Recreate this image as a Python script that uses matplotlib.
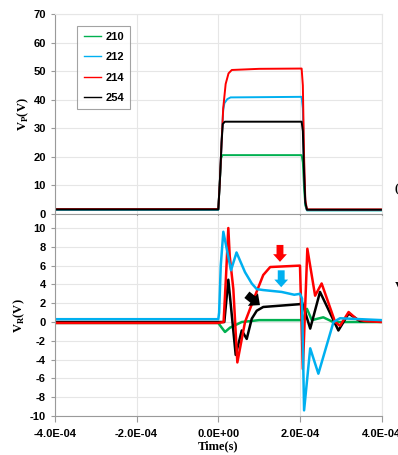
import matplotlib
matplotlib.use("Agg")
import matplotlib.pyplot as plt

# ---------------- data ----------------
labels = ["210", "212", "214", "254"]
colors = ["#00b050", "#00b0f0", "#ff0000", "#000000"]

# top panel: V_P(V)
tp_210 = [-4e-4, 0.0, 4e-6, 7e-6, 1.0e-5, 2.04e-4, 2.07e-4, 2.10e-4, 2.13e-4, 2.17e-4, 4e-4]
vp_210 = [1.5, 1.5, 12.0, 19.5, 20.6, 20.6, 18.0, 9.0, 3.0, 1.3, 1.3]
tp_212 = [-4e-4, 0.0, 4e-6, 8e-6, 1.2e-5, 1.5e-5, 2.2e-5, 3.0e-5, 2.04e-4, 2.07e-4, 2.10e-4, 2.13e-4, 2.17e-4, 4e-4]
vp_212 = [1.5, 1.5, 12.0, 25.0, 36.5, 38.8, 40.2, 40.8, 41.0, 37.0, 17.0, 4.0, 1.3, 1.3]
tp_214 = [-4e-4, 0.0, 4e-6, 8e-6, 1.2e-5, 1.8e-5, 2.5e-5, 3.3e-5, 1.0e-4, 2.04e-4, 2.07e-4, 2.10e-4, 2.13e-4, 2.17e-4, 4e-4]
vp_214 = [1.7, 1.7, 12.0, 25.0, 37.0, 45.5, 49.2, 50.4, 50.8, 50.9, 45.0, 20.0, 5.0, 1.6, 1.6]
tp_254 = [-4e-4, 0.0, 4e-6, 8e-6, 1.1e-5, 1.6e-5, 2.04e-4, 2.07e-4, 2.10e-4, 2.13e-4, 2.17e-4, 4e-4]
vp_254 = [1.6, 1.6, 12.0, 25.0, 31.5, 32.3, 32.3, 29.0, 14.0, 4.0, 1.5, 1.5]

# bottom panel: V_R(V)
tr_210 = [-4e-4, 0.0, 6.6e-6, 1.64e-5, 2.87e-5, 4.09e-5, 5.74e-5, 1.0e-4, 2.0e-4, 2.08e-4, 2.17e-4, 2.29e-4, 2.57e-4, 2.81e-4, 4e-4]
vr_210 = [-0.1, -0.1, -0.5, -1.06, -0.6, -0.35, 0.0, 0.2, 0.2, 0.3, 1.4, 0.2, 0.5, 0.0, 0.0]
tr_212 = [-4e-4, 0.0, 2e-6, 6e-6, 1.23e-5, 3.11e-5, 4.46e-5, 6.54e-5, 8.19e-5, 9.41e-5, 1.10e-4, 1.55e-4, 1.86e-4, 2.0e-4, 2.05e-4, 2.10e-4, 2.25e-4, 2.45e-4, 2.82e-4, 2.98e-4, 4e-4]
vr_212 = [0.3, 0.3, 1.0, 6.0, 9.6, 5.5, 7.4, 5.3, 4.1, 3.5, 3.4, 3.2, 2.9, 3.0, 2.5, -9.4, -2.8, -5.5, 0.0, 0.4, 0.2]
tr_214 = [-4e-4, 0.0, 1.3e-5, 1.9e-5, 2.45e-5, 2.8e-5, 3.68e-5, 4.66e-5, 6.54e-5, 9.0e-5, 1.10e-4, 1.27e-4, 2.0e-4, 2.07e-4, 2.18e-4, 2.37e-4, 2.53e-4, 2.86e-4, 2.98e-4, 3.19e-4, 3.39e-4, 3.6e-4, 4e-4]
vr_214 = [-0.1, -0.1, 0.0, 5.0, 10.0, 7.0, 3.5, -4.3, 0.0, 2.8, 5.0, 5.85, 6.0, -5.0, 7.8, 2.8, 4.1, 0.0, -0.4, 1.06, 0.3, 0.1, 0.0]
tr_254 = [-4e-4, 0.0, 1.47e-5, 2.45e-5, 4.26e-5, 5.74e-5, 6.96e-5, 8.19e-5, 9.41e-5, 1.10e-4, 2.0e-4, 2.05e-4, 2.13e-4, 2.25e-4, 2.49e-4, 2.94e-4, 3.19e-4, 3.47e-4, 4e-4]
vr_254 = [0.0, 0.0, 0.0, 4.5, -3.5, -0.9, -1.8, 0.35, 1.2, 1.6, 1.9, 2.1, 1.0, -0.7, 3.2, -0.9, 0.9, 0.1, 0.1]

xticks = [-4e-4, -2e-4, 0.0, 2e-4, 4e-4]
xticklabels = ["-4.0E-04", "-2.0E-04", "0.0E+00", "2.0E-04", "4.0E-04"]
top_yticks = [0, 10, 20, 30, 40, 50, 60, 70]
bot_yticks = [-10, -8, -6, -4, -2, 0, 2, 4, 6, 8, 10]

# arrows: (x_from, y_from, x_to, y_to, color, size)
arrows = [
    (1.51e-4, 8.2, 1.51e-4, 6.4, "#ff0000", 11),
    (1.54e-4, 5.5, 1.54e-4, 3.7, "#00b0f0", 11),
    (7.0e-5, 2.9, 1.02e-4, 1.8, "#000000", 13),
]

# ---------------- plotting ----------------
fig = plt.figure(figsize=(3.98, 4.55), dpi=100)
ax1 = fig.add_axes([0.138, 0.5297, 0.821, 0.4396])
ax2 = fig.add_axes([0.138, 0.0857, 0.821, 0.4396])

tick_font = dict(family="Liberation Sans", weight="bold", size=8)
label_font = dict(family="Liberation Serif", weight="bold", size=9)

top_series = [(tp_210, vp_210), (tp_212, vp_212), (tp_214, vp_214), (tp_254, vp_254)]
for (t, v), c, lab in zip(top_series, colors, labels):
    ax1.plot(t, v, color=c, lw=1.4, label=lab)

bot_series = [(tr_210, vr_210), (tr_254, vr_254), (tr_214, vr_214), (tr_212, vr_212)]
bot_colors = [colors[0], colors[3], colors[2], colors[1]]
for (t, v), c in zip(bot_series, bot_colors):
    ax2.plot(t, v, color=c, lw=1.8)

for ax in (ax1, ax2):
    ax.set_xlim(-4e-4, 4e-4)
    ax.set_xticks(xticks)
    ax.grid(True, color="#e6e6e6", lw=0.8)
    ax.set_axisbelow(True)
    for s in ("top", "right"):
        ax.spines[s].set_color("#e6e6e6")
    for s in ("left", "bottom"):
        ax.spines[s].set_color("#9a9a9a")
    ax.tick_params(axis="both", direction="out", length=3, width=0.8, color="#9a9a9a")

ax1.set_ylim(0, 70)
ax1.set_yticks(top_yticks)
ax1.set_yticklabels([str(v) for v in top_yticks], **tick_font)
ax1.set_xticklabels([])
ax1.tick_params(axis="x", length=3)
ax1.set_ylabel("V$_\\mathregular{P}$(V)", labelpad=2, **label_font)

ax2.set_ylim(-10, 11.28)
ax2.set_yticks(bot_yticks)
ax2.set_yticklabels([str(v) for v in bot_yticks], **tick_font)
ax2.set_xticklabels(xticklabels, **tick_font)
ax2.tick_params(axis="x", length=4, pad=5)
ax2.spines["top"].set_visible(False)
ax2.set_ylabel("V$_\\mathregular{R}$(V)", labelpad=2, **label_font)
ax2.set_xlabel("Time(s)", labelpad=1, **label_font)

for x0, y0, x1, y1, c, ms in arrows:
    ax2.annotate("", xy=(x1, y1), xytext=(x0, y0),
                 arrowprops=dict(arrowstyle="simple,head_length=0.5,head_width=0.9,tail_width=0.45",
                                 color=c, lw=0, mutation_scale=ms, shrinkA=0, shrinkB=0))

leg = ax1.legend(loc="upper left", bbox_to_anchor=(0.052, 0.97), frameon=True,
                 fancybox=False, edgecolor="#8c8c8c", handlelength=1.6,
                 labelspacing=0.95, borderpad=0.55, handletextpad=0.35,
                 prop=dict(family="Liberation Sans", weight="bold", size=8))
leg.get_frame().set_linewidth(0.8)
for h in leg.get_lines():
    h.set_linewidth(1.0)

# partially cropped text at the right edge of the picture
fig.text(0.992, 1 - 189 / 455, "(", family="Liberation Serif", weight="bold", size=9,
         ha="left", va="center")
fig.text(0.992, 1 - 287 / 455, "V", family="Liberation Serif", weight="bold", size=9,
         ha="left", va="center")

fig.savefig("out.png", dpi=100)
